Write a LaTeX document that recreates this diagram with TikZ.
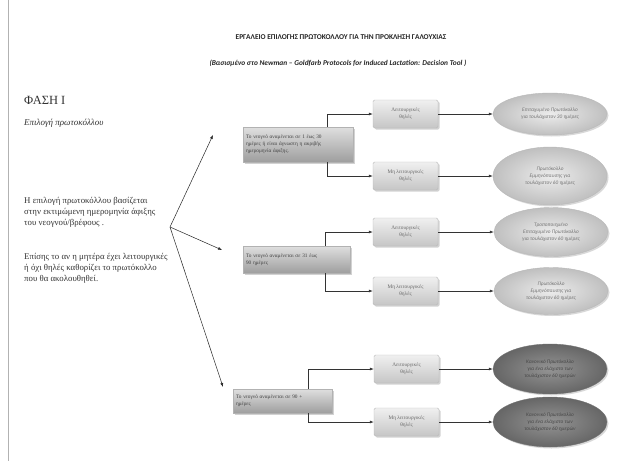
\documentclass[tikz,border=0pt]{standalone}
\usepackage{fontspec}
\setmainfont{Liberation Serif}
\newfontfamily\headfont{Carlito}
\usetikzlibrary{arrows.meta, positioning, shapes.geometric, shadows}

\begin{document}
\begin{tikzpicture}[x=1pt, y=-1pt,
    decbox/.style={draw=gray!60, top color=gray!25, bottom color=black!38, drop shadow={opacity=0.35, shadow xshift=1.5pt, shadow yshift=-1.5pt}, align=left, font=\fontsize{5.3}{7}\selectfont, text=black!75, inner sep=3pt},
    nipbox/.style={draw=gray!55, rounded corners=1.5pt, top color=gray!12, bottom color=gray!45, drop shadow={opacity=0.35, shadow xshift=1.5pt, shadow yshift=-1.5pt}, minimum width=65pt, minimum height=28pt, align=center, font=\fontsize{5.3}{7}\selectfont, text=black!60, inner sep=1pt},
    prot/.style={ellipse, draw=gray!55, inner color=gray!15, outer color=gray!50, drop shadow={opacity=0.3, shadow xshift=1.5pt, shadow yshift=-1.5pt}, minimum width=114pt, align=center, font=\headfont\itshape\fontsize{5.3}{7}\selectfont, text=black!55, inner sep=0pt},
    protdark/.style={prot, draw=black!55, inner color=black!42, outer color=black!60, text=black!72},
    arr/.style={-{Latex[length=4pt, width=3pt]}, line width=0.6pt, black!80},
    fan/.style={-{Latex[length=4pt, width=3pt]}, line width=0.5pt, black!85},
]
\useasboundingbox (0,0) rectangle (619,461);
\fill[white] (0,0) rectangle (619,461);

% Page frame
\draw[gray!60, line width=0.8pt] (8,0) -- (8,461);

% =============================================================================
% Heading
% =============================================================================
\node[font=\headfont\bfseries\fontsize{7.4}{9}\selectfont, text=black!85] (title) at (341,37) {ΕΡΓΑΛΕΙΟ ΕΠΙΛΟΓΗΣ ΠΡΩΤΟΚΟΛΛΟΥ ΓΙΑ ΤΗΝ ΠΡΟΚΛΗΣΗ ΓΑΛΟΥΧΙΑΣ};
\node[font=\headfont\bfseries\itshape\fontsize{7.4}{9}\selectfont, text=black!85] (subtitle) at (338,63) {(Βασισμένο στο Newman – Goldfarb Protocols for Induced Lactation: Decision Tool )};

% =============================================================================
% Left column
% =============================================================================
\node[anchor=west, inner sep=0pt, font=\fontsize{12.5}{14}\selectfont, text=black!80] (phase) at (24,100) {ΦΑΣΗ Ι};
\node[anchor=west, inner sep=0pt, font=\itshape\fontsize{9}{11}\selectfont, text=black!80] (choice) at (24,123) {Επιλογή πρωτοκόλλου};

\node[anchor=base west, inner sep=0pt, align=left, font=\fontsize{8.8}{11}\selectfont, text=black!80] (para1) at (24,225)
    {Η επιλογή πρωτοκόλλου βασίζεται\\στην εκτιμώμενη ημερομηνία άφιξης\\του νεογνού/βρέφους .};
\node[anchor=base west, inner sep=0pt, align=left, font=\fontsize{8.8}{11}\selectfont, text=black!80] (para2) at (24,281)
    {Επίσης το αν η μητέρα έχει λειτουργικές\\ή όχι θηλές καθορίζει το πρωτόκολλο\\που θα ακολουθηθεί.};

% Fan of arrows
\coordinate (root) at (170,227);
\coordinate (tip1) at (213,135);
\coordinate (tip2) at (222,250);
\coordinate (tip3) at (223,387);
\draw[fan] (root) -- (tip1);
\draw[fan] (root) -- (tip2);
\draw[fan] (root) -- (tip3);

% =============================================================================
% Arrival times
% =============================================================================
\node[decbox, minimum width=110pt, minimum height=35pt, text width=104pt] (D1) at (298,144.5)
    {Το νεογνό αναμένεται σε 1 έως 30\\ημέρες ή είναι άγνωστη η ακριβής\\ημερομηνία άφιξης.};
\node[decbox, minimum width=107pt, minimum height=27pt, text width=101pt] (D2) at (296.5,259.5)
    {Το νεογνό αναμένεται σε 31 έως\\90 ημέρες};
\node[decbox, minimum width=99pt, minimum height=24pt, text width=93pt] (D3) at (282.5,401)
    {Το νεογνό αναμένεται σε 90 +\\ημέρες};

% =============================================================================
% Nipples
% =============================================================================
\node[nipbox] (L1) at (405.5,114) {Λειτουργικές\\θηλές};
\node[nipbox] (M1) at (405.5,176) {Μη λειτουργικές\\θηλές};
\node[nipbox] (L2) at (405.5,232) {Λειτουργικές\\θηλές};
\node[nipbox] (M2) at (405.5,291) {Μη λειτουργικές\\θηλές};
\node[nipbox] (L3) at (406.5,369) {Λειτουργικές\\θηλές};
\node[nipbox] (M3) at (406.5,422) {Μη λειτουργικές\\θηλές};

\draw[arr] ([xshift=29pt]D1.north) |- (L1.west);
\draw[arr] ([xshift=29pt]D1.south) |- (M1.west);
\draw[arr] ([xshift=28.5pt]D2.north) |- (L2.west);
\draw[arr] ([xshift=28.5pt]D2.south) |- (M2.west);
\draw[arr] ([xshift=25.5pt]D3.north) |- (L3.west);
\draw[arr] ([xshift=25.5pt]D3.south) |- (M3.west);

% =============================================================================
% Protocols
% =============================================================================
\node[prot, minimum height=42pt] (E1) at (550,114) {Επιταχυμένο Πρωτόκολλο\\για τουλάχιστον 30 ημέρες};
\node[prot, minimum height=58pt] (E2) at (550,176) {Πρωτόκολλο\\Εμμηνόπαυσης για\\τουλάχιστον 60 ημέρες};
\node[prot, minimum height=49pt] (E3) at (551,232) {Τροποποιημένο\\Επιταχυμένο Πρωτόκολλο\\για τουλάχιστον 60 ημέρες};
\node[prot, minimum height=47pt] (E4) at (551,291) {Πρωτόκολλο\\Εμμηνόπαυσης για\\τουλάχιστον 60 ημέρες};
\node[protdark, minimum height=50pt] (E5) at (550,369) {Κανονικό Πρωτόκολλο\\για ένα ελάχιστο των\\τουλάχιστον 60 ημερών};
\node[protdark, minimum height=50pt] (E6) at (550,422) {Κανονικό Πρωτόκολλο\\για ένα ελάχιστο των\\τουλάχιστον 60 ημερών};

\draw[arr] (L1) -- (E1);
\draw[arr] (M1) -- (E2);
\draw[arr] (L2) -- (E3);
\draw[arr] (M2) -- (E4);
\draw[arr] (L3) -- (E5);
\draw[arr] (M3) -- (E6);

\end{tikzpicture}
\end{document}
